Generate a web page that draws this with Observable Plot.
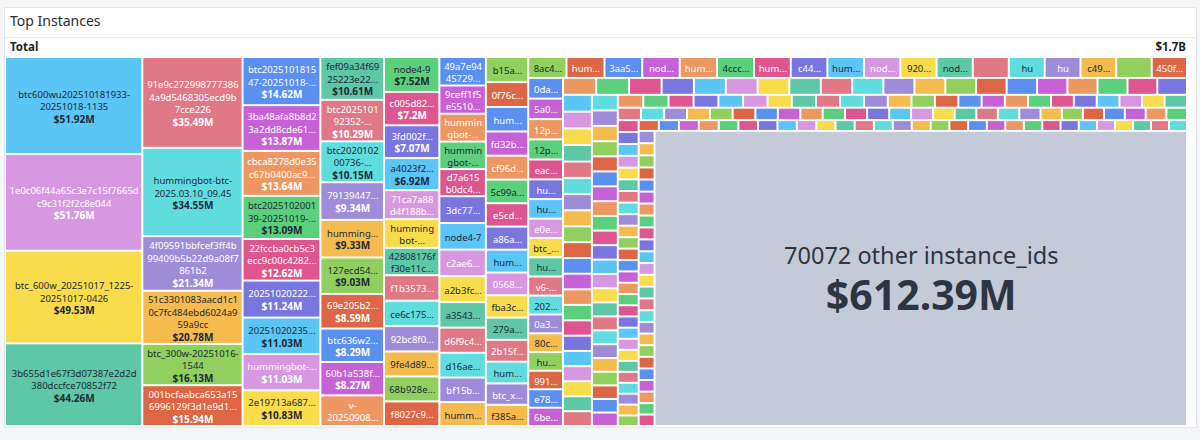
<!DOCTYPE html>
<html><head><meta charset="utf-8">
<script src="https://cdn.jsdelivr.net/npm/d3@7"></script>
<script src="https://cdn.jsdelivr.net/npm/@observablehq/plot@0.6"></script>
<style>
html,body{margin:0;padding:0;width:1200px;height:440px;overflow:hidden;background:#f5f6f8;font-family:"Noto Sans",sans-serif;}
#panel{position:absolute;left:4px;top:7px;width:1193px;height:421px;background:#fff;border:1px solid #e3e6eb;box-sizing:border-box;}
#title{position:absolute;left:10px;top:11px;font-size:14px;color:#2a2e35;}
#sep{position:absolute;left:5px;width:1191px;top:37px;height:1px;background:#e8eaee;}
#total{position:absolute;left:10px;top:39px;font-size:11.5px;font-weight:700;color:#1f242b;}
#totalv{position:absolute;right:14px;top:39px;font-size:11.5px;font-weight:700;color:#1f242b;}
#chart{position:absolute;left:0;top:57px;}
</style></head>
<body>
<div id="panel"></div>
<div id="title">Top Instances</div>
<div id="sep"></div>
<div id="total">Total</div>
<div id="totalv"></div>
<div id="chart"></div>
<script>
// ---- data (cost in $M), sorted descending, "other" bucket last ----
const instanceIds = [
 "btc600wu202510181933-20251018-1135","1e0c06f44a65c3e7c15f7665dc9c31f2f2c8e044","btc_600w_20251017_1225-20251017-0426","3b655d1e67f3d07387e2d2d380dccfce70852f72",
 "91e9c2729987773864a9d5468305ecd9b7cce226","hummingbot-btc-2025.03.10_09.45","4f09591bbfcef3ff4b99409b5b22d9a08f7861b2","51c3301083aacd1c10c7fc484ebd6024a959a9cc","btc_300w-20251016-1544","001bcfaabca653a156996129f3d1e9d1a4c7e2b0",
 "btc202510181547-20251018-0412","3ba48afa8b8d23a2dd8cde61f0b7a9c4e5d2f318","cbca8278d0e35c67b0400ac93e1f5d7a26b48c0e","btc202510200139-20251019-2210","22fccba0cb5c3ecc9c00c42826d1e7b9a04f3c55","20251020222514-20251020-1631","20251020235107-20251020-1702","hummingbot-eth-2025.05.02_14.20","2e19713a687c4f0d9b8e2a15c3d7f6e04b1a9c28",
 "fef09a34f6925223e22b8c1d4a7e9f03c65d1b27","btc202510192352-20251019-1544","btc202010200736-20201020-0915","79139447a2c5e8d0f61b4937c2e8a5d0b7f31c46","hummingbot-sol-2025.06.11_08.30","127ecd54b9a3f0e28c7d61a5f4b2e9c03d8a1f67","69e205b2d4c81f7a3e9b05c62d1a8f4e7b30c9d5","btc636w20251014_0930-20251014-1120","60b1a538f2d97c4e1b8a63d05e2f9c7a41b6d830","v-202509081422mmbot",
 "node4-9","c005d82e7a1f4b9c","3fd002f9b1e7c4a0","a4023f2d8c6e1b95","71ca7a88d4f188b3e0c2a9d7","hummingbot-adausdt_2025","42808176ff30e11c9a2d5b7e","f1b3573e0a9c4d2b","ce6c175b8f2e9a04","92bc8f0d3a7e1c56","9fe4d89c2b0a7e13","68b928e5d1c0f3a7","f8027c9a6e3b1d04",
 "49a7e9445729b3c1d0e8f2a6","9ceff1f5e5510a7d2c9b4e83","hummingbot-ethusdt_2025","hummingbot-solusdt_2025","d7a615b0dc4e97f13a2c58d6","3dc776072204f9e1b58a3d0c","node4-7","c2ae693f5d3d81b0e4a7c29f","a2b3fc4bf2f62e9d07c15a83","a3543e8d1f07b29c64a5e0d7","d6f9c4a0b7e3582d1c9f46ab","d16ae5f3c02b97d4e8a1306c","bf15b8d2e4a0397c61f5b2ea","hummingbot-btcusdt_2025",
 "b15a0e7d3c92f4","0f76c2a9e1d5b8","hummingbot-arb-2025.09.03","fd32b7e0a4c918","cf96d1e8b3a072","5c99a4f2e7b0d3","e5cd83b1f0a96e","a86a2f7c5d0e14","hummingbot-xrp-2025.09.12","0568e3d9a1b7c2","fba3c6e0d29b41","279a4d1f8e0c63","2b15f9c7a03e8d","hummingbot-doge-2025.09.15","btc_x2_20251012","f385a0c7e2d19b",
 "8ac4e1b9f7d023","hummingbot-bnb-2025.09.20","3aa5d0c8e7f192","node4-3","hummingbot-ada-2025.09.24","4ccc1e9a6d0f35","hummingbot-avax-2025.09.25","c44b7f2d0e9a13","hummingbot-dot-2025.09.28","node4-12","920d5a1c7e3f08","node4-2","","hu","hu","c49e0b3a8d7f21","","450f7e2c9a1d36",
 "0da83c5e1f9b27","5a0d9e6b2c8f14","12pm-btc-20251013","12pm-eth-20251013","eac1f7d0b39e52","hummingbot-trx-2025.10.05","hummingbot-ton-2025.10.06","e0e4b8a2d7c691","btc_350w-20251011","hummingbot-near-2025.10.07","v6-20251009-0315","20251021014502","0a3f6c1e9d8b27","80c2e5a7d1f946","hummingbot-apt-2025.10.08","991b4d0e7c2a53","e78a1c9f3b6d05","6be5d2a0f8c731"
];
const labeledCosts = [
 51.92,51.76,49.53,44.26,
 35.49,34.55,21.34,20.78,16.13,15.94,
 14.62,13.87,13.64,13.09,12.62,11.24,11.03,11.03,10.83,
 10.61,10.29,10.15,9.34,9.33,9.03,8.59,8.29,8.27,7.6,
 7.52,7.2,7.07,6.92,6.24,6.2,5.9,5.5,5.48,5.46,5.4,5.38,5.3
];
const minorCosts = [
 5.17,5.12,5.05,4.98,4.92,4.87,4.82,4.8,4.72,4.62,4.56,4.5,4.43,4.35,
 4.15,4.1,4.05,4.0,3.95,3.9,3.86,3.82,3.78,3.74,3.7,3.66,3.62,3.58,3.54,3.5,
 3.12,3.1,3.08,3.06,3.04,3.02,3.0,2.99,2.98,2.97,2.96,2.95,2.94,2.93,2.92,2.91,2.9,2.88,
 2.8,2.78,2.75,2.72,2.7,2.67,2.65,2.63,2.61,2.6,2.58,2.57,2.55,2.54,2.53,2.51,2.5,2.48
];
const tinyCosts = [
 2.18,2.16,2.14,2.12,2.1,2.09,2.08,2.07,2.06,2.05,2.04,2.03,2.02,2.01,2.0,1.99,1.98,1.97,1.96,1.95,
 1.9,1.89,1.87,1.86,1.84,1.83,1.82,1.8,1.79,1.78,1.77,1.76,1.75,1.74,1.73,1.72,1.71,1.7,1.69,1.68,1.67,
 1.58,1.56,1.55,1.53,1.52,1.51,1.5,1.49,1.48,1.47,1.46,1.45,1.44,1.43,1.42,1.41,1.4,1.39,1.39,1.38,1.37,1.37,1.36,
 1.28,1.27,1.26,1.25,1.24,1.23,1.22,1.22,1.21,1.2,1.2,1.19,1.18,1.18,1.17,1.17,1.16,1.16,1.15,1.15,1.14,1.14,1.13,1.13,
 1.12,1.12,1.11,1.11,1.1,1.1,1.09,1.09,1.08,1.08,1.07,1.07,1.06,1.06,1.05,1.05,1.04,1.04,1.03,1.03,1.02,1.02,1.01,1.01,1.0,1.0,
 0.97,0.97,0.96,0.96,0.95,0.95,0.94,0.94,0.94,0.93,0.93,0.93,0.92,0.92,0.92,0.91,0.91,0.91,0.9,0.9,0.9,0.89,0.89,0.89,0.88,0.88,
 0.86,0.85,0.85,0.84,0.84,0.83,0.83,0.82,0.82,0.82,0.81,0.81,0.81,0.8,0.8,0.8,0.79,0.79,0.79,0.78,0.78,0.78,0.77,0.77,0.77,0.76,0.76,0.76,
 0.76,0.76,0.76,0.75,0.75,0.75,0.75,0.74,0.74,0.74,0.74,0.74,0.73,0.73,0.73,0.73,0.73,0.73,0.72,0.72,0.72,0.72,0.72,0.72,0.71,0.71,0.71
];
const otherCount = 70072;
const otherCost = 612.39;
const palette = ["#5bc5f6","#d898e1","#f8dc4b","#5ec7a5","#e07886","#61dcde","#9f8cd9","#f5bb4e","#91cf5f","#dc6645","#5b8ff0","#c762d6","#ed9762","#5bcf7c","#dd5690","#7a76e0"];
const darkIdx = new Set([0,2,3,5,7,8,13]);

// ---- build items ----
const costs = [...labeledCosts, ...minorCosts, ...tinyCosts];
const items = costs.map((c, i) => ({
  id: instanceIds[i] ?? "", cost: c, color: palette[i % 16],
  tc: darkIdx.has(i % 16) ? "#1d2a38" : "#ffffff"
}));
items.push({id: "other", cost: otherCost, color: "#c5cad9", tc: "#2d3542", other: true});
const total = d3.sum(items, d => d.cost);
document.getElementById("totalv").textContent = "$" + (total / 1000).toFixed(1) + "B";

// ---- treemap layout (computed in a taller box, stretched by the y scale) ----
const SW = 1182, SH = 369, S = 1.794;
const root = d3.hierarchy({children: items}).sum(d => d.cost || 0);
d3.treemap().tile(d3.treemapSquarify.ratio(1)).size([SW, SH * S])(root);
const cells = root.leaves().map(n => ({...n.data, x0: n.x0, x1: n.x1, y0: n.y0, y1: n.y1,
  cx: (n.x0 + n.x1) / 2, cy: (n.y0 + n.y1) / 2, w: n.x1 - n.x0, h: (n.y1 - n.y0) / S}));

// ---- labels ----
const ctx = document.createElement("canvas").getContext("2d");
const NF = '9.5px "Noto Sans"', BF = 'bold 10px "Noto Sans"';
function tw(s, f) { ctx.font = f; return ctx.measureText(s).width; }
const fmt = v => "$" + (+v.toFixed(2)) + "M";
function wrap(name, avail, maxLines) {
  const lines = []; let rest = name;
  while (rest.length && lines.length < maxLines) {
    if (tw(rest, NF) <= avail) { lines.push(rest); rest = ""; break; }
    if (lines.length === maxLines - 1) {
      let n = 0; while (n < rest.length && tw(rest.slice(0, n + 1) + "...", NF) <= avail) n++;
      if (n === 0) return lines.length ? lines : null;
      const hy = rest.slice(0, n).lastIndexOf("-");
      if (hy >= 0) n = hy + 1;
      lines.push(rest.slice(0, n) + "..."); rest = ""; break;
    }
    let n = 0; while (n < rest.length && tw(rest.slice(0, n + 1), NF) <= avail) n++;
    if (n === 0) return null;
    const hy = rest.slice(0, n).lastIndexOf("-");
    if (hy >= 0) n = hy + 1;
    lines.push(rest.slice(0, n)); rest = rest.slice(n);
  }
  return lines;
}
const labels = [];
for (const d of cells) {
  if (d.other || !d.id) continue;
  const wi = d.w - 2, hi = d.h - 2, avail = wi - 6.2;
  if (hi < 16 || wi < 26) continue;
  const val = fmt(d.cost);
  const showValue = hi >= 29.5 && tw(val, BF) <= avail;
  const maxLines = showValue ? Math.min(3, Math.floor((hi - 11) / 12.5)) : Math.min(2, Math.floor(hi / 12.5));
  if (maxLines < 1) continue;
  const lines = wrap(d.id, avail, maxLines);
  if (!lines) continue;
  labels.push({...d,
    nameText: lines.join("\n") + (showValue ? "\n\u00a0" : ""),
    valueText: showValue ? "\u00a0\n".repeat(lines.length) + val : null});
}
const otherCell = cells.filter(d => d.other);

const chart = Plot.plot({
  width: 1200, height: SH, marginTop: 0, marginBottom: 0, marginLeft: 5, marginRight: 13,
  x: {domain: [0, SW], axis: null},
  y: {domain: [0, SH * S], range: [0, SH], axis: null},
  color: {type: "identity"},
  style: {fontFamily: '"Noto Sans", sans-serif', background: "transparent"},
  marks: [
    Plot.rect(cells, {x1: "x0", x2: "x1", y1: "y0", y2: "y1", fill: "color", inset: 1}),
    Plot.text(labels, {x: "cx", y: "cy", text: "nameText", fill: "tc", fontSize: 9.5, lineHeight: 1.316}),
    Plot.text(labels.filter(d => d.valueText), {x: "cx", y: "cy", text: "valueText", fill: "tc", fontSize: 10, fontWeight: "bold", lineHeight: 1.25}),
    Plot.text(otherCell, {x: "cx", y: "cy", text: d => `${otherCount} other instance_ids`, dy: -23, fontSize: 23.5, fill: "tc"}),
    Plot.text(otherCell, {x: "cx", y: "cy", text: d => fmt(d.cost), dy: 18, fontSize: 41, fontWeight: "bold", fill: "tc"})
  ]
});
document.getElementById("chart").appendChild(chart);
</script>
</body></html>
